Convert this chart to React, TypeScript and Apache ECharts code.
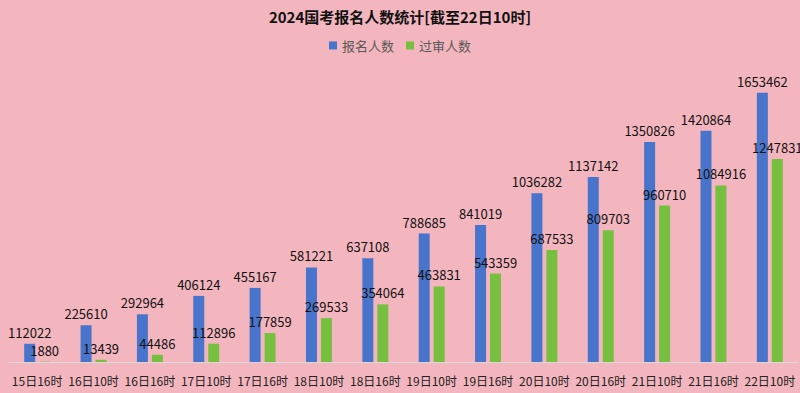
import React, { useEffect, useRef } from "react";
import * as echarts from "echarts";

const categories = ["15日16时", "16日10时", "16日16时", "17日10时", "17日16时", "18日10时", "18日16时", "19日10时", "19日16时", "20日10时", "20日16时", "21日10时", "21日16时", "22日10时"];
const registered = [112022, 225610, 292964, 406124, 455167, 581221, 637108, 788685, 841019, 1036282, 1137142, 1350826, 1420864, 1653462];
const approved = [1880, 13439, 44486, 112896, 177859, 269533, 354064, 463831, 543359, 687533, 809703, 960710, 1084916, 1247831];

const FONT = "'Noto Sans CJK SC', 'Noto Sans', sans-serif";

export default function App() {
  const ref = useRef<HTMLDivElement>(null);
  useEffect(() => {
    if (!ref.current) return;
    const chart = echarts.init(ref.current, undefined, { renderer: "svg" });
    chart.setOption({
      animation: false,
      backgroundColor: "#F4B6BE",
      textStyle: { fontFamily: FONT },
      title: {
        text: "2024国考报名人数统计[截至22日10时]",
        left: "center",
        top: 4,
        textStyle: { fontSize: 15, fontWeight: "bold", color: "#111", fontFamily: FONT },
      },
      legend: {
        top: 34,
        left: "center",
        itemWidth: 8,
        itemHeight: 8,
        itemGap: 12,
        icon: "rect",
        textStyle: { fontSize: 13, color: "#595959", fontFamily: FONT },
        data: ["报名人数", "过审人数"],
      },
      grid: { left: 9, right: 2, top: 69, bottom: 31, containLabel: false },
      xAxis: {
        type: "category",
        data: categories,
        axisLine: { lineStyle: { color: "#D9D9D9" } },
        axisTick: { show: false },
        axisLabel: { fontSize: 12, color: "#222", margin: 12, interval: 0, fontFamily: FONT },
      },
      yAxis: {
        type: "value",
        min: 0,
        max: 1800000,
        show: false,
        splitLine: { show: false },
      },
      series: [
        {
          name: "报名人数",
          type: "bar",
          data: registered,
          barWidth: 11,
          barGap: "36%",
          itemStyle: { color: "#4874CB" },
          label: { show: true, position: "top", distance: 5, fontSize: 13, color: "#111", fontFamily: FONT },
        },
        {
          name: "过审人数",
          type: "bar",
          data: approved,
          barWidth: 11,
          itemStyle: { color: "#77BF3F" },
          label: { show: true, position: "top", distance: 5, fontSize: 13, color: "#111", fontFamily: FONT },
        },
      ],
    });
    return () => chart.dispose();
  }, []);
  return <div ref={ref} style={{ width: 800, height: 393, position: "absolute", left: 0, top: 0 }} />;
}
